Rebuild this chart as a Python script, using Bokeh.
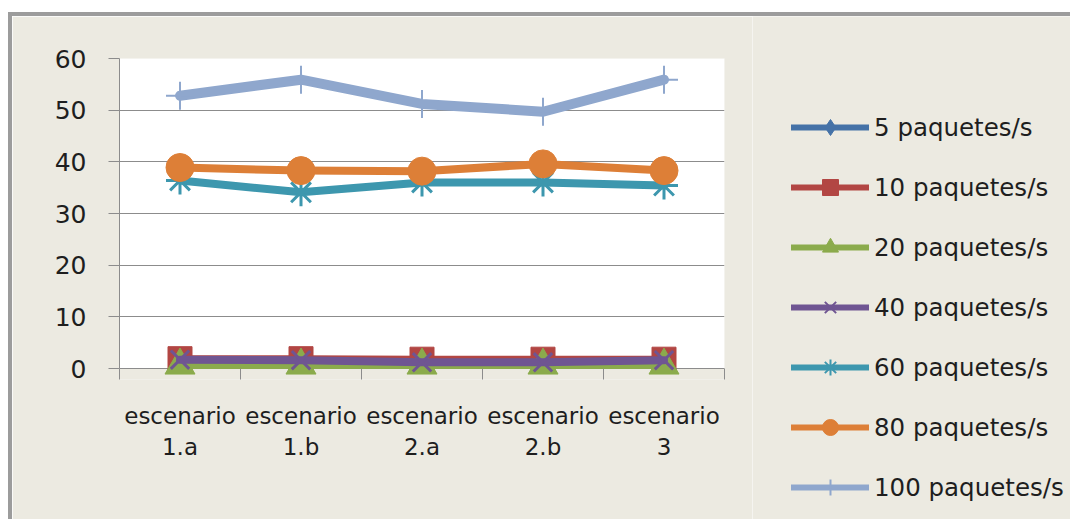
from bokeh.plotting import figure
from bokeh.models import Range1d, FixedTicker, Legend, LegendItem, BoxAnnotation
from bokeh.layouts import row
from bokeh.embed import file_html
from bokeh.resources import INLINE

categories = ["escenario\n1.a", "escenario\n1.b", "escenario\n2.a", "escenario\n2.b", "escenario\n3"]
y_ticks = [0, 10, 20, 30, 40, 50, 60]

series_names = ["5 paquetes/s", "10 paquetes/s", "20 paquetes/s", "40 paquetes/s",
                "60 paquetes/s", "80 paquetes/s", "100 paquetes/s"]
s5 = [0.9, 0.9, 0.8, 0.8, 0.9]
s10 = [1.9, 1.9, 1.8, 1.8, 1.8]
s20 = [0.6, 0.6, 0.6, 0.6, 0.6]
s40 = [1.7, 1.6, 1.2, 1.2, 1.6]
s60 = [36.4, 34.1, 36.0, 36.0, 35.4]
s80 = [38.9, 38.3, 38.2, 39.6, 38.3]
s100 = [52.8, 55.9, 51.2, 49.7, 55.9]
series_values = [s5, s10, s20, s40, s60, s80, s100]

colors = ["#4572a7", "#b24643", "#8bab4c", "#6f5592", "#3d97ae", "#dd7f37", "#8fa7cd"]
markers = ["diamond", "square", "triangle", "x", "asterisk", "circle", "cross"]
msizes = [18, 24, 30, 26, 28, 28, 28]
mline = [1, 1, 1, 3, 3, 1, 2]
lwidths = [7, 7, 7, 8, 8, 8, 10]

BG = "#eceae1"
GRID = "#8c8c8c"
FONT = "DejaVu Sans"
TXT = "#1e1e1e"

xs = [i + 0.5 for i in range(len(categories))]
y_pad = 11 * max(y_ticks) / 310.0   # room below zero for markers/ticks (11 px)

p = figure(width=740, height=503, output_backend="svg", toolbar_location=None,
           x_range=Range1d(0, len(categories)), y_range=Range1d(-y_pad, max(y_ticks)),
           min_border_left=107, min_border_right=28, min_border_top=42, min_border_bottom=140)
p.frame_align = False
p.background_fill_color = BG
p.border_fill_color = BG
p.outline_line_color = None
p.add_layout(BoxAnnotation(bottom=0, fill_color="white", fill_alpha=1, line_color=None, level="image"))

# x axis: line is the zero grid line; boundary ticks drawn upward from frame bottom
p.xaxis.ticker = FixedTicker(ticks=xs, minor_ticks=list(range(len(categories) + 1)))
p.xaxis.major_label_overrides = {x: c for x, c in zip(xs, categories)}
p.xaxis.major_tick_line_color = None
p.xaxis.major_tick_out = 0
p.xaxis.major_tick_in = 0
p.xaxis.minor_tick_line_color = GRID
p.xaxis.minor_tick_out = 0
p.xaxis.minor_tick_in = 11
p.xaxis.axis_line_color = None
p.xaxis.major_label_text_font = FONT
p.xaxis.major_label_text_font_size = "23px"
p.xaxis.major_label_text_color = TXT
p.xaxis.major_label_standoff = 23
p.xgrid.grid_line_color = None

# y axis
p.yaxis.bounds = (0, max(y_ticks))
p.yaxis.ticker = FixedTicker(ticks=y_ticks)
p.yaxis.major_tick_line_color = GRID
p.yaxis.major_tick_out = 11
p.yaxis.major_tick_in = 0
p.yaxis.minor_tick_line_color = None
p.yaxis.axis_line_color = GRID
p.yaxis.major_label_text_font = FONT
p.yaxis.major_label_text_font_size = "25px"
p.yaxis.major_label_text_color = TXT
p.yaxis.major_label_standoff = 22
p.ygrid.grid_line_color = GRID
p.ygrid.grid_line_width = 1
p.ygrid.level = "underlay"

for vals, c, m, ms, ml, lw in zip(series_values, colors, markers, msizes, mline, lwidths):
    p.line(xs, vals, line_color=c, line_width=lw, line_join="round", line_cap="round")
    p.scatter(xs, vals, marker=m, size=ms, fill_color=c, line_color=c, line_width=ml)

# legend panel: a separate figure whose frame is the whole canvas, so the legend is not clipped
lg = figure(width=318, height=503, output_backend="svg", toolbar_location=None,
            x_axis_location=None, y_axis_location=None, min_border=0,
            x_range=Range1d(-20, -10), y_range=Range1d(-20, -10))
lg.frame_align = False
lg.background_fill_color = BG
lg.border_fill_color = BG
lg.outline_line_color = None
lg.grid.visible = False

items = []
for name, vals, c, m, ms, ml in zip(series_names, series_values, colors, markers, msizes, mline):
    lr = lg.line(xs, vals, line_color=c, line_width=6, line_join="round", line_cap="round")
    sr = lg.scatter(xs, vals, marker=m, size=ms, fill_color=c, line_color=c, line_width=min(ml, 2))
    items.append(LegendItem(label=name, renderers=[lr, sr]))

legend = Legend(items=items, location=(39, 12), orientation="vertical",
                glyph_width=78, glyph_height=40, spacing=20, padding=0, margin=0,
                label_standoff=5, label_text_font=FONT, label_text_font_size="24.5px",
                label_text_color=TXT, background_fill_alpha=0, border_line_color=None)
lg.add_layout(legend)

layout = row(p, lg, spacing=0)
layout.styles = {"margin-left": "8px", "margin-top": "12px",
                 "border-top": "4px solid #9c9c9c", "border-left": "4px solid #9c9c9c"}

open("out.html", "w").write(file_html(layout, INLINE))
